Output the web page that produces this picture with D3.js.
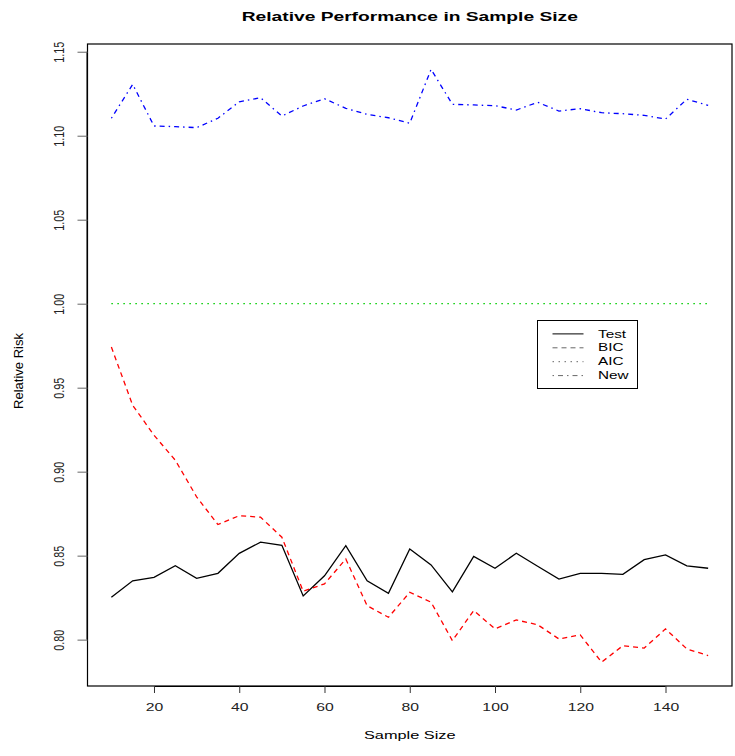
<!DOCTYPE html>
<html>
<head>
<meta charset="utf-8">
<script src="https://cdn.jsdelivr.net/npm/d3@7"></script>
<style>
  body { margin: 0; background: #fff; }
  svg text { font-family: "Liberation Sans", Arial, Helvetica, sans-serif; }
</style>
</head>
<body>
<div id="chart"></div>
<script>
// ----- dati
var sampleSize = [10, 15, 20, 25, 30, 35, 40, 45, 50, 55, 60, 65, 70, 75, 80,
    85, 90, 95, 100, 105, 110, 115, 120, 125, 130, 135, 140, 145, 150];

var testVals = [0.8252, 0.835, 0.8371, 0.844, 0.8365, 0.8395, 0.8514, 0.858, 0.8562, 0.826,
    0.838, 0.856, 0.835, 0.8276, 0.854, 0.8445, 0.8284, 0.8496, 0.8425, 0.8514,
    0.8437, 0.836, 0.8395, 0.8395, 0.8389, 0.8476, 0.8504, 0.8439, 0.8425];

var bicVals = [0.9742, 0.9395, 0.9217, 0.9068, 0.885, 0.8685, 0.8738, 0.8729, 0.861, 0.8288,
    0.8332, 0.848, 0.8202, 0.8133, 0.8282, 0.8223, 0.7994, 0.8173, 0.8064, 0.8117,
    0.8089, 0.8004, 0.8028, 0.7866, 0.7964, 0.795, 0.8064, 0.7945, 0.7905];

var aicVals = sampleSize.map(function () { return 1.0; });

var newVals = [1.1104, 1.1306, 1.1058, 1.1054, 1.1048, 1.1104, 1.1202, 1.1226, 1.1117, 1.1177,
    1.122, 1.1163, 1.1127, 1.1107, 1.1074, 1.1395, 1.1187, 1.1183, 1.1179, 1.1153,
    1.1199, 1.1147, 1.1161, 1.1137, 1.1131, 1.1121, 1.1099, 1.1217, 1.1181];

var xTicks = [20, 40, 60, 80, 100, 120, 140];
var yTicks = [0.80, 0.85, 0.90, 0.95, 1.00, 1.05, 1.10, 1.15];

var legendNames = ["Test", "BIC", "AIC", "New"];

// ----- stili delle serie (tipo lty di R, un po' allungati)
var series = [
    { name: "Test", values: testVals, color: "#000000", dash: null },
    { name: "BIC", values: bicVals, color: "#ff0000", dash: "5,4" },
    { name: "AIC", values: aicVals, color: "#00cd00", dash: "1.5,4.5" },
    { name: "New", values: newVals, color: "#0000ff", dash: "1.5,4,5,4" }
];

var w = 735;
var h = 756;

// ----- il testo dell'originale e' stirato in orizzontale
var stretch = 1.5;

// ----- area del grafico (niente "top": window.top e' riservato)
var pLeft = 87.5, pRight = 732, pTop = 44, pBottom = 686;

var svg = d3.select("#chart").append("svg")
    .attr("width", w)
    .attr("height", h);

var x = d3.scaleLinear().domain([4.4, 155.6]).range([pLeft, pRight]);
var y = d3.scaleLinear().domain([0.7724, 1.1546]).range([pBottom, pTop]);

// ----- linee
var line = d3.line()
    .x(function (d) { return x(d[0]); })
    .y(function (d) { return y(d[1]); });

series.forEach(function (s) {
    var pts = sampleSize.map(function (v, i) { return [v, s.values[i]]; });
    svg.append("path")
        .attr("d", line(pts))
        .attr("fill", "none")
        .attr("stroke", s.color)
        .attr("stroke-width", 1.3)
        .attr("stroke-dasharray", s.dash);
});

// ----- cornice
svg.append("rect")
    .attr("x", pLeft)
    .attr("y", pTop)
    .attr("width", pRight - pLeft)
    .attr("height", pBottom - pTop)
    .attr("fill", "none")
    .attr("stroke", "#000")
    .attr("stroke-width", 1.2);

// ----- assi
var xAxis = svg.append("g")
    .attr("transform", "translate(0," + pBottom + ")")
    .call(d3.axisBottom(x).tickValues(xTicks).tickSize(7).tickFormat(d3.format("d")));
xAxis.attr("font-family", null);
xAxis.select(".domain")
    .attr("d", "M" + x(20) + ",0.5H" + x(140));
xAxis.selectAll(".tick line").attr("stroke", "#333");
xAxis.selectAll("text")
    .attr("font-size", 10.5)
    .attr("fill", "#222")
    .attr("y", 25)
    .attr("dy", null)
    .attr("transform", "scale(" + stretch + ",1)");

var yAxis = svg.append("g")
    .attr("transform", "translate(" + pLeft + ",0)")
    .call(d3.axisLeft(y).tickValues(yTicks).tickSize(10).tickFormat(d3.format(".2f")));
yAxis.attr("font-family", null);
yAxis.select(".domain")
    .attr("d", "M-0.5," + y(0.80) + "V" + y(1.15));
yAxis.selectAll(".tick line").attr("stroke", "#666");
yAxis.selectAll("text")
    .attr("font-size", 10.8)
    .attr("fill", "#222")
    .attr("x", null)
    .attr("dy", null)
    .attr("text-anchor", "middle")
    .attr("transform", "translate(-24,0) scale(1.42,1) rotate(-90)");

// ----- titolo ed etichette
svg.append("text")
    .attr("transform", "translate(" + (pLeft + pRight) / 2 + ",21) scale(1.55,1)")
    .attr("text-anchor", "middle")
    .attr("font-size", 12.4)
    .attr("font-weight", "bold")
    .text("Relative Performance in Sample Size");

svg.append("text")
    .attr("transform", "translate(" + (pLeft + pRight) / 2 + ",739) scale(1.42,1)")
    .attr("text-anchor", "middle")
    .attr("font-size", 11.5)
    .text("Sample Size");

svg.append("text")
    .attr("transform", "translate(23," + 371 + ") rotate(-90)")
    .attr("text-anchor", "middle")
    .attr("font-size", 13)
    .text("Relative Risk");

// ----- legenda
var lg = svg.append("g").attr("transform", "translate(537.5,320.5)");
lg.append("rect")
    .attr("width", 100)
    .attr("height", 68)
    .attr("fill", "#fff")
    .attr("stroke", "#000");

legendNames.forEach(function (name, i) {
    var s = series[i];
    var by = 17 + i * 13.9;
    lg.append("line")
        .attr("x1", 15).attr("x2", 46)
        .attr("y1", by - 3.6).attr("y2", by - 3.6)
        .attr("stroke", "#000")
        .attr("stroke-opacity", s.dash ? 0.6 : 1)
        .attr("stroke-width", 1)
        .attr("stroke-dasharray", s.dash);
    lg.append("text")
        .attr("transform", "translate(60.5," + by + ") scale(" + stretch + ",1)")
        .attr("font-size", 10.2)
        .text(name);
});
</script>
</body>
</html>
